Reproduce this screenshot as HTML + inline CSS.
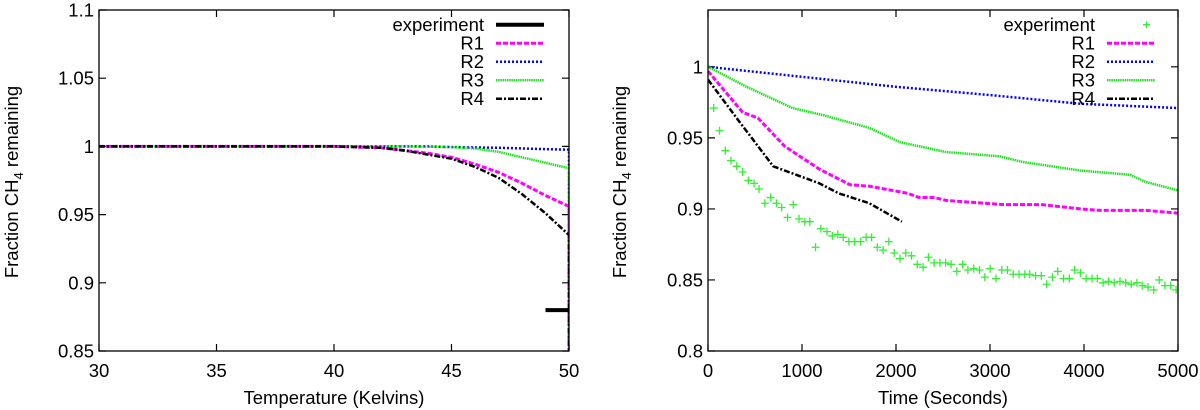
<!DOCTYPE html>
<html><head><meta charset="utf-8"><style>
html,body{margin:0;padding:0;background:#fff;}
svg{display:block;font-family:"Liberation Sans",sans-serif;}
</style></head><body>
<svg id="chart" width="1200" height="410" viewBox="0 0 1200 410" xmlns="http://www.w3.org/2000/svg"></svg>
<script>
// ---- Left panel data (Temperature) ----
const tempX = [30,32,34,36,38,40,41,42,43,44,45,46,47,48,49,50];
const leftR1 = [1,1,1,1,1,1,0.9995,0.999,0.997,0.995,0.992,0.987,0.981,0.973,0.964,0.956];
const leftR2 = [1,1,1,1,1,1,1,1,1,1,0.9995,0.9992,0.999,0.9985,0.998,0.9976];
const leftR3 = [1,1,1,1,1,1,1,1,1,0.9998,0.9995,0.9985,0.996,0.992,0.988,0.984];
const leftR4 = [1,1,1,1,1,1,0.9995,0.999,0.997,0.994,0.991,0.985,0.977,0.965,0.951,0.935];
const leftExpX = [49,50];
const leftExpY = [0.88,0.88];
const leftXTicks = [30,35,40,45,50];
const leftYTicks = [0.85,0.9,0.95,1,1.05,1.1];
const leftYLabels = ["0.85","0.9","0.95","1","1.05","1.1"];

// ---- Right panel data (Time) ----
const r1T = [0,368,531,817,1185,1511,1716,2124,2247,2410,2533,2941,3145,3554,3962,4167,4657,5000];
const r1V = [0.997,0.968,0.964,0.944,0.928,0.917,0.916,0.911,0.908,0.908,0.906,0.904,0.903,0.903,0.900,0.899,0.899,0.897];
const r2T = [0,1993,3023,3962,5000];
const r2V = [1.0,0.986,0.980,0.974,0.971];
const r3T = [0,408,899,1225,1716,2042,2533,3105,3350,3962,4493,4657,5000];
const r3V = [1.0,0.986,0.971,0.966,0.957,0.947,0.940,0.937,0.933,0.927,0.924,0.919,0.913];
const r4T = [0,327,694,1185,1389,1716,2063];
const r4V = [0.991,0.962,0.930,0.918,0.911,0.904,0.891];
const expT = [61,123,184,245,306,368,429,490,543,605,666,728,784,846,907,968,1030,1083,1144,1201,1266,1323,1381,1438,1499,1560,1622,1683,1740,1801,1863,1924,1981,2042,2104,2165,2226,2288,2345,2406,2467,2528,2586,2647,2708,2765,2827,2888,2945,3002,3064,3125,3186,3247,3309,3370,3423,3485,3546,3603,3664,3721,3783,3844,3901,3962,4023,4085,4142,4203,4260,4322,4383,4444,4502,4563,4620,4681,4742,4800,4861,4922,4980];
const expV = [0.971,0.955,0.941,0.934,0.930,0.926,0.920,0.918,0.914,0.904,0.908,0.904,0.901,0.894,0.903,0.893,0.891,0.891,0.873,0.886,0.884,0.881,0.882,0.880,0.877,0.877,0.877,0.880,0.880,0.873,0.871,0.877,0.869,0.865,0.869,0.867,0.861,0.859,0.866,0.862,0.862,0.862,0.861,0.856,0.861,0.857,0.858,0.857,0.852,0.858,0.851,0.857,0.857,0.854,0.854,0.854,0.854,0.853,0.853,0.847,0.852,0.856,0.851,0.851,0.857,0.855,0.851,0.851,0.851,0.848,0.849,0.848,0.849,0.848,0.847,0.848,0.846,0.845,0.843,0.850,0.846,0.846,0.843];
const rightXTicks = [0,1000,2000,3000,4000,5000];
const rightYTicks = [0.8,0.85,0.9,0.95,1];
const rightYLabels = ["0.8","0.85","0.9","0.95","1"];

const NS = "http://www.w3.org/2000/svg";
const svg = document.getElementById('chart');
function mk(tag, attrs, parent){const e=document.createElementNS(NS,tag);for(const k in attrs)e.setAttribute(k,attrs[k]);(parent||svg).appendChild(e);return e;}

const FS = 18.5;
const styles = {
  R1:{stroke:'#ff00ff',w:3,dash:'5,2'},
  R2:{stroke:'#0000ff',w:2.5,dash:'2,2'},
  R3:{stroke:'#22e022',w:2.5,dash:'1.5,0.7'},
  R4:{stroke:'#000000',w:2.5,dash:'6,2,2,2'},
  exp:{stroke:'#000000',w:4,dash:''}
};

function panel(p){
  const g = mk('g',{});
  
  
  const sx = v => p.x0 + (v - p.xmin)/(p.xmax - p.xmin)*(p.x1 - p.x0);
  const sy = v => p.y1 - (v - p.ymin)/(p.ymax - p.ymin)*(p.y1 - p.y0);
  const clipId = p.name + '-clip';
  const cp = mk('clipPath',{id:clipId},g); mk('rect',{x:p.x0,y:p.y0,width:p.x1-p.x0,height:p.y1-p.y0},cp);
  p.xTicks.forEach(t=>{
    const x=sx(t);
    const tk = mk('path',{d:`M${x},${p.y1}v-7M${x},${p.y0}v7`,stroke:'#000','stroke-width':1.2},g);
    
    
    const lb = mk('text',{x:x,y:p.y1+26,'text-anchor':'middle','font-size':FS},g); lb.textContent=t;
    
    
  });
  p.yTicks.forEach((t,i)=>{
    const y=sy(t);
    const tk = mk('path',{d:`M${p.x0},${y}h7M${p.x1},${y}h-7`,stroke:'#000','stroke-width':1.2},g);
    
    
    const lb = mk('text',{x:p.x0-5,y:y+6.5,'text-anchor':'end','font-size':FS},g); lb.textContent=p.yLabels[i];
    
    
  });
  const plot = mk('g',{'clip-path':`url(#${clipId})`},g);
  p.series.forEach(s=>{
    const st=styles[s.key];
    if(s.points){
      const gg = mk('g',{stroke:'#33ee33','stroke-width':1.3},plot);
      
      
      s.x.forEach((xv,i)=>{
        const x=sx(xv), y=sy(s.y[i]);
        const m = mk('path',{d:`M${x-4},${y}h8M${x},${y-4}v8`},gg);
        
        
      });
    } else {
      let d = s.x.map((xv,i)=>(i?'L':'M')+sx(xv)+','+sy(s.y[i])).join('');
      if(s.drop) d += 'L'+sx(s.x[s.x.length-1])+','+(p.y1+5);
      const l = mk('path',{d:d,fill:'none',stroke:st.stroke,'stroke-width':st.w,'stroke-dasharray':st.dash,'stroke-linejoin':'round'},plot);
      
      
    }
  });
  const box = mk('rect',{x:p.x0,y:p.y0,width:p.x1-p.x0,height:p.y1-p.y0,fill:'none',stroke:'#000','stroke-width':1.3},g);
  
  
  const xt = mk('text',{x:(p.x0+p.x1)/2,y:404,'text-anchor':'middle','font-size':FS},g); xt.textContent=p.xTitle;
  
  
  const yt = mk('text',{transform:`translate(${p.ytx},182) rotate(-90)`,'text-anchor':'middle','font-size':FS},g);
  yt.innerHTML='Fraction CH<tspan font-size="13" dy="5">4</tspan><tspan dy="-5"> remaining</tspan>';
  
  
  const lg = mk('g',{},g);
  
  
  const labels=['experiment','R1','R2','R3','R4'], keys=['exp','R1','R2','R3','R4'];
  labels.forEach((lab,i)=>{
    const y=24.7+i*18.5;
    const t=mk('text',{x:p.legX,y:y+6.5,'text-anchor':'end','font-size':FS},lg); t.textContent=lab;
    
    
    if(keys[i]==='exp' && p.expPoints){
      const m = mk('path',{d:`M${p.legS+p.legW-12},${y}h7M${p.legS+p.legW-8.5},${y-3.5}v7`,stroke:'#33ee33','stroke-width':1.3},lg);
      
      
    } else {
      const st=styles[keys[i]];
      const m = mk('path',{d:`M${p.legS},${y}h${p.legW}`,stroke:st.stroke,'stroke-width':st.w,'stroke-dasharray':st.dash},lg);
      
      
    }
  });
}

panel({name:'temperature-panel',x0:99,x1:569,y0:10,y1:351,xmin:30,xmax:50,ymin:0.85,ymax:1.1,
  xTicks:leftXTicks,yTicks:leftYTicks,yLabels:leftYLabels,xTitle:'Temperature (Kelvins)',ytx:18,
  legX:484,legS:496,legW:48,expPoints:false,
  series:[{key:'R2',x:tempX,y:leftR2,drop:true},{key:'R3',x:tempX,y:leftR3,drop:true},{key:'R1',x:tempX,y:leftR1,drop:true},{key:'R4',x:tempX,y:leftR4,drop:true},{key:'exp',x:leftExpX,y:leftExpY}]});

panel({name:'time-panel',x0:708,x1:1178,y0:10,y1:351,xmin:0,xmax:5000,ymin:0.8,ymax:1.04,
  xTicks:rightXTicks,yTicks:rightYTicks,yLabels:rightYLabels,xTitle:'Time (Seconds)',ytx:626,
  legX:1095,legS:1107,legW:48,expPoints:true,
  series:[{key:'exp',x:expT,y:expV,points:true},{key:'R2',x:r2T,y:r2V},{key:'R3',x:r3T,y:r3V},{key:'R1',x:r1T,y:r1V},{key:'R4',x:r4T,y:r4V}]});
</script>
</body></html>
